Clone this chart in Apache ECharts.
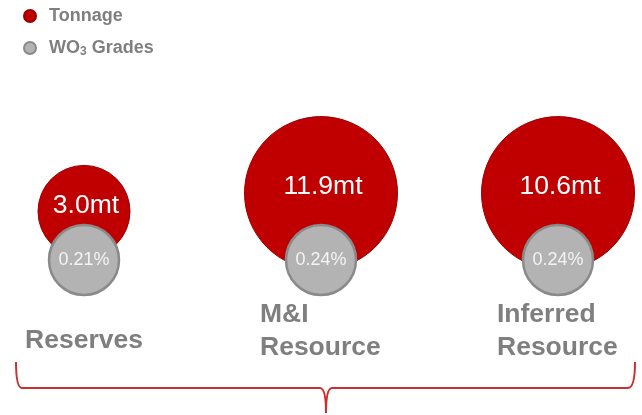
<!DOCTYPE html>
<html>
<head>
<meta charset="utf-8">
<script src="https://cdn.jsdelivr.net/npm/echarts@6/dist/echarts.min.js"></script>
<style>
  html, body { margin: 0; padding: 0; background: #fff; }
  #chart { width: 642px; height: 415px; }
</style>
</head>
<body>
<div id="chart"></div>
<script>
// data
var categories = ['Reserves', 'M&I\nResource', 'Inferred\nResource'];
var tonnage = [3.0, 11.9, 10.6];   // mt
var grades = [0.21, 0.24, 0.24];   // WO3 %

var FONT = '"Liberation Sans", Arial, sans-serif';
var GREY_TXT = '#7f7f7f';
var BRACE = { fill: null, stroke: '#cc2f2f', lineWidth: 2 };

// bubble diameter from tonnage (capped, like the original)
function bubbleSize(v) {
  return Math.min(153, 41 + 17 * v);
}

function curve(x1, y1, cx, cy, x2, y2) {
  return { type: 'bezierCurve', shape: { x1: x1, y1: y1, cpx1: cx, cpy1: cy, x2: x2, y2: y2 }, style: BRACE };
}
function seg(x1, y1, x2, y2) {
  return { type: 'line', shape: { x1: x1, y1: y1, x2: x2, y2: y2 }, style: BRACE };
}

var chart = echarts.init(document.getElementById('chart'));

var option = {
  backgroundColor: '#fff',
  animation: false,
  legend: {
    orient: 'vertical',
    left: 18,
    top: 1,
    itemWidth: 12,
    itemHeight: 12,
    itemGap: 12,
    icon: 'circle',
    textStyle: {
      color: GREY_TXT,
      fontSize: 18,
      fontWeight: 'bold',
      fontFamily: FONT,
      lineHeight: 20,
      padding: [0, 0, 0, 8],
      rich: {
        b: { color: GREY_TXT, fontSize: 18, fontWeight: 'bold', fontFamily: FONT },
        sub: { color: GREY_TXT, fontSize: 12, fontWeight: 'bold', fontFamily: FONT, padding: [8, 0, 0, 0] }
      }
    },
    formatter: function (name) {
      if (name === 'WO3 Grades') return '{b|WO}{sub|3}{b| Grades}';
      return name;
    },
    data: ['Tonnage', 'WO3 Grades']
  },
  grid: { left: 84, right: 84, top: 230, bottom: 125 },
  xAxis: {
    type: 'category',
    boundaryGap: false,
    data: categories,
    axisLine: { show: false },
    axisTick: { show: false },
    splitLine: { show: false },
    axisLabel: {
      interval: 0,
      margin: 8,
      formatter: function (v) {
        if (v.indexOf('\n') >= 0) {
          return v.split('\n').map(function (s) { return '{l|' + s + '}'; }).join('\n');
        }
        return '{s|' + v + '}';
      },
      rich: {
        l: { width: 122, align: 'left', color: GREY_TXT, fontSize: 26.5, fontWeight: 'bold', fontFamily: FONT, lineHeight: 33 },
        s: { color: GREY_TXT, fontSize: 26.5, fontWeight: 'bold', fontFamily: FONT, lineHeight: 86 }
      }
    }
  },
  yAxis: { type: 'value', min: -1, max: 1, show: false },
  series: [
    {
      name: 'Tonnage',
      type: 'scatter',
      itemStyle: { color: '#c00000', borderColor: '#9a0000', borderWidth: 1, opacity: 1 },
      label: {
        show: true,
        position: 'inside',
        offset: [2, -6],
        color: '#fff',
        fontSize: 26.5,
        fontFamily: FONT,
        formatter: function (p) { return p.value[2].toFixed(1) + 'mt'; }
      },
      data: categories.map(function (c, i) {
        var d = bubbleSize(tonnage[i]);
        return {
          value: [c, 0, tonnage[i]],
          symbolSize: d,
          symbolOffset: [0, -(0.3 * d + 21)]
        };
      })
    },
    {
      name: 'WO3 Grades',
      type: 'scatter',
      symbolSize: 70,
      itemStyle: { color: '#b3b3b3', borderColor: '#8a8a8a', borderWidth: 2.5, opacity: 1 },
      label: {
        show: true,
        position: 'inside',
        color: '#f4f4f4',
        fontSize: 18,
        fontFamily: FONT,
        formatter: function (p) { return p.value[2].toFixed(2) + '%'; }
      },
      data: categories.map(function (c, i) {
        return [c, 0, grades[i]];
      })
    }
  ],
  // curly brace under the three categories
  graphic: [
    curve(16, 362, 16, 388, 22, 388),
    seg(22, 388, 320, 388),
    curve(320, 388, 326, 388, 326, 413),
    curve(326, 413, 326, 388, 332, 388),
    seg(332, 388, 628, 388),
    curve(628, 388, 635, 388, 635, 362)
  ]
};

chart.setOption(option);
</script>
</body>
</html>
